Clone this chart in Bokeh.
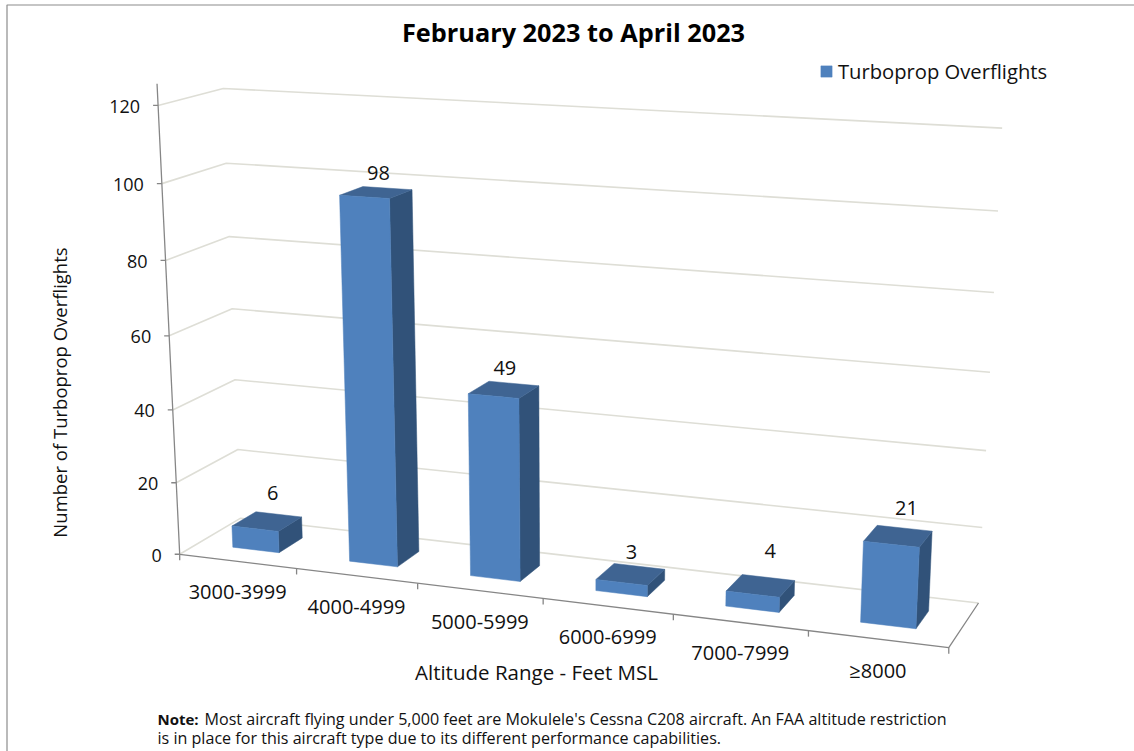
import numpy as np
from bokeh.plotting import figure
from bokeh.models import Legend, LegendItem
from bokeh.core.properties import value
from bokeh.embed import file_html
from bokeh.resources import INLINE

# ---- data ----
title = "February 2023 to April 2023"
series_name = "Turboprop Overflights"
categories = ["3000-3999", "4000-4999", "5000-5999", "6000-6999", "7000-7999", "\u22658000"]
overflights = [6, 98, 49, 3, 4, 21]
y_ticks = [0, 20, 40, 60, 80, 100, 120]
y_title = "Number of Turboprop Overflights"
x_title = "Altitude Range - Feet MSL"
note_bold = "Note:"
note_1 = "Most aircraft flying under 5,000 feet are Mokulele's Cessna C208  aircraft. An FAA altitude restriction"
note_2 = "is in place for this aircraft type due to its different performance capabilities."

# ---- layout / style ----
W, H = 1134, 751
FONT = "Open Sans"
FRONT, TOP, SIDE = "#4F81BD", "#3F6492", "#315279"
AXIS, GRID = "#868686", "#DEDED6"

# Camera of the 3D box: (category position, value, depth) seen at (px, py)
CAL = [
    (0, 0, 0, 179, 553), (6, 0, 0, 948, 647), (0, 0, 1, 240, 518), (6, 0, 1, 978, 602),
    (0, 120, 0, 157, 105), (0, 120, 1, 222, 88), (6, 120, 1, 1002, 127),
    (0, 20, 0, 175, 482), (0, 100, 0, 162, 183), (0, 100, 1, 227, 163), (6, 100, 1, 997, 211),
    (6, 20, 1, 982, 527), (0, 20, 1, 237, 449),
    (1, 0, 0, 297, 568), (2, 0, 0, 418, 583), (3, 0, 0, 542, 598), (5, 0, 0, 808, 631),
]
rows = []
for X, Y, Z, u, v in CAL:
    rows.append([X, Y, Z, 1, 0, 0, 0, 0, -u * X, -u * Y, -u * Z, -u])
    rows.append([0, 0, 0, 0, X, Y, Z, 1, -v * X, -v * Y, -v * Z, -v])
CAM = np.linalg.svd(np.array(rows, dtype=float))[2][-1].reshape(3, 4)


def proj(x, y, z):
    q = CAM @ np.array([x, y, z, 1.0])
    return q[0] / q[2], q[1] / q[2]


def path(points):
    pts = [proj(*a) for a in points]
    return [a[0] for a in pts], [a[1] for a in pts]


p = figure(width=W, height=H, x_range=(0, W), y_range=(H, 0), output_backend="svg",
           toolbar_location=None, min_border=0, outline_line_color=None,
           background_fill_color="white", border_fill_color="white",
           styles={"position": "absolute", "left": "0px", "top": "0px"})
p.axis.visible = False
p.grid.visible = False

# chart border (left and top only remain visible)
p.line([6.5, 6.5, W], [H, 4.5, 4.5], line_color="#8C8C8C", line_width=1.2)

# wall gridlines
xs, ys = [], []
for t in y_ticks:
    a, b = path([(0, t, 0), (0, t, 1), (6, t, 1)])
    xs.append(a)
    ys.append(b)
p.multi_line(xs, ys, line_color=GRID, line_width=1.6)

# axes
n = len(categories)
xs, ys = [], []
a, b = path([(0, 125.5, 0), (0, 0, 0), (n, 0, 0), (n, 0, 1)])
xs.append(a)
ys.append(b)
for t in y_ticks:
    u, v = proj(0, t, 0)
    xs.append([u - 5, u])
    ys.append([v, v])
for i in range(n + 1):
    u, v = proj(i, 0, 0)
    xs.append([u, u])
    ys.append([v, v + 6])
p.multi_line(xs, ys, line_color=AXIS, line_width=1.3)

# bars
GAP0, GAP1 = 0.3, 0.7
faces = {"top": ([], []), "side": ([], []), "front": ([], [])}
for i, val in enumerate(overflights):
    x0, x1 = i + GAP0, i + GAP1
    for key, pts in (
        ("front", [(x0, 0, GAP0), (x1, 0, GAP0), (x1, val, GAP0), (x0, val, GAP0)]),
        ("side", [(x1, 0, GAP0), (x1, 0, GAP1), (x1, val, GAP1), (x1, val, GAP0)]),
        ("top", [(x0, val, GAP0), (x1, val, GAP0), (x1, val, GAP1), (x0, val, GAP1)]),
    ):
        a, b = path(pts)
        faces[key][0].append(a)
        faces[key][1].append(b)
p.patches(*faces["side"], fill_color=SIDE, line_color=SIDE, line_width=0.5)
p.patches(*faces["top"], fill_color=TOP, line_color=TOP, line_width=0.5)
front = p.patches(*faces["front"], fill_color=FRONT, line_color=FRONT, line_width=0.5)

# data labels
nudge_x = [-6, -9, -9, -8, 2, 2]
nudge_y = [-21, -15, -16, -14, -27, -20]
lab = [proj(i + 0.5, val, GAP1) for i, val in enumerate(overflights)]
p.text([a[0] + d for a, d in zip(lab, nudge_x)], [a[1] + d for a, d in zip(lab, nudge_y)],
       text=[str(v) for v in overflights], text_font=value(FONT), text_font_size="20px",
       text_align="center", text_baseline="middle", text_color="#111111")

# value tick labels
tp = [proj(0, t, 0) for t in y_ticks]
p.text([a[0] - 18 for a in tp], [a[1] + 1 for a in tp], text=[str(t) for t in y_ticks],
       text_font=value(FONT), text_font_size="18px", text_align="right",
       text_baseline="middle", text_color="#111111")

# category labels
cp = [proj(i + 0.5, 0, 0) for i in range(n)]
p.text([a[0] for a in cp], [a[1] + 31 for a in cp], text=categories,
       text_font=value(FONT), text_font_size="20px", text_align="center",
       text_baseline="middle", text_color="#111111")

# titles
p.text([573], [31], text=[title], text_font=value(FONT), text_font_style="bold",
       text_font_size="25.3px", text_align="center", text_baseline="middle", text_color="black")
p.text([59], [392], text=[y_title], angle=np.pi / 2, text_font=value(FONT), text_font_size="18.5px",
       text_align="center", text_baseline="middle", text_color="#111111")
p.text([536], [671.5], text=[x_title], text_font=value(FONT), text_font_size="20.5px",
       text_align="center", text_baseline="middle", text_color="#111111")

# note
p.text([157], [718], text=[note_bold], text_font=value(FONT), text_font_style="bold",
       text_font_size="15px", text_align="left", text_baseline="middle", text_color="#111111")
p.text([204], [718], text=[note_1], text_font=value(FONT), text_font_size="16.1px",
       text_align="left", text_baseline="middle", text_color="#111111")
p.text([157], [737], text=[note_2], text_font=value(FONT), text_font_size="16.1px",
       text_align="left", text_baseline="middle", text_color="#111111")

# legend
legend = Legend(items=[LegendItem(label=series_name, renderers=[front])], location=(819, H - 85),
                background_fill_alpha=0, border_line_color=None, margin=0, padding=0,
                glyph_width=14, glyph_height=14, label_standoff=5,
                label_text_font=FONT, label_text_font_size="20.2px", label_text_color="#111111")
p.add_layout(legend, "center")

open("out.html", "w").write(file_html(p, INLINE))
